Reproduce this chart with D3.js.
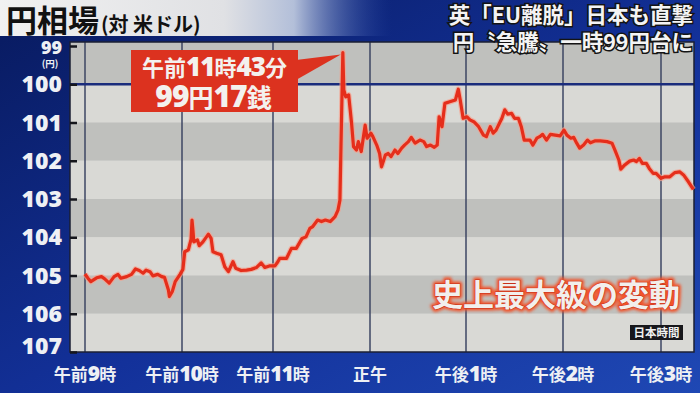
<!DOCTYPE html>
<html>
<head>
<meta charset="utf-8">
<script src="https://cdn.jsdelivr.net/npm/d3@7"></script>
<style>
  body { margin: 0; background: #0c237a; }
  svg { display: block; }
</style>
</head>
<body>
<svg width="700" height="393"></svg>
<script>
// time in hours (11.5 = 11:30 JST), rate in yen per dollar
const times = [9.00, 9.03, 9.06, 9.12, 9.17, 9.20, 9.25, 9.30, 9.34, 9.37, 9.43, 9.48, 9.52, 9.56, 9.60, 9.63, 9.67, 9.70, 9.75, 9.79,
  9.82, 9.86, 9.87, 9.90, 9.93, 9.98, 10.01, 10.03, 10.07, 10.10, 10.11, 10.12, 10.13, 10.17, 10.19, 10.23, 10.29, 10.32, 10.34, 10.38,
  10.43, 10.47, 10.51, 10.56, 10.59, 10.65, 10.71, 10.76, 10.82, 10.87, 10.91, 10.96, 11.02, 11.05, 11.07, 11.14, 11.19, 11.24, 11.30, 11.34,
  11.38, 11.41, 11.46, 11.50, 11.54, 11.59, 11.64, 11.67, 11.69, 11.72, 11.73, 11.75, 11.78, 11.81, 11.83, 11.86, 11.88, 11.91, 11.95, 11.97,
  12.01, 12.03, 12.07, 12.10, 12.12, 12.16, 12.19, 12.22, 12.26, 12.29, 12.33, 12.36, 12.40, 12.43, 12.47, 12.52, 12.56, 12.59, 12.63, 12.67,
  12.70, 12.72, 12.75, 12.78, 12.83, 12.89, 12.92, 12.94, 12.97, 13.01, 13.04, 13.08, 13.13, 13.18, 13.21, 13.25, 13.28, 13.31, 13.37, 13.40,
  13.43, 13.47, 13.50, 13.54, 13.57, 13.60, 13.66, 13.69, 13.73, 13.76, 13.79, 13.83, 13.87, 13.92, 13.97, 14.01, 14.04, 14.08, 14.11, 14.14,
  14.17, 14.21, 14.25, 14.28, 14.33, 14.38, 14.45, 14.50, 14.53, 14.57, 14.59, 14.63, 14.68, 14.72, 14.75, 14.78, 14.81, 14.85, 14.88, 14.92,
  14.95, 15.00, 15.04, 15.09, 15.14, 15.19, 15.23, 15.28, 15.33];
const rates = [104.96, 105.07, 105.16, 105.06, 105.03, 105.08, 105.20, 105.03, 104.97, 105.07, 105.03, 104.97, 104.83, 104.87, 104.94, 104.86, 104.90, 105.01, 104.97, 105.03,
  105.05, 105.38, 105.55, 105.42, 105.16, 104.97, 104.84, 104.38, 104.33, 104.05, 103.55, 103.81, 104.12, 104.07, 104.22, 104.12, 103.92, 104.03, 104.38, 104.42,
  104.46, 104.77, 104.90, 104.64, 104.81, 104.87, 104.86, 104.84, 104.79, 104.67, 104.79, 104.75, 104.75, 104.64, 104.55, 104.55, 104.29, 104.29, 104.03, 103.99,
  103.77, 103.72, 103.55, 103.59, 103.55, 103.59, 103.46, 103.29, 103.03, 99.17, 100.15, 100.33, 100.28, 101.02, 101.63, 101.72, 101.50, 101.76, 101.07, 101.41,
  101.28, 101.37, 101.59, 101.81, 102.16, 101.85, 101.81, 101.89, 101.72, 101.81, 101.67, 101.59, 101.50, 101.39, 101.54, 101.46, 101.50, 101.63, 101.59, 101.65,
  101.59, 100.85, 101.11, 100.50, 100.46, 100.41, 100.13, 100.41, 100.89, 100.85, 100.93, 100.98, 101.11, 101.33, 101.37, 101.11, 101.28, 101.20, 100.89, 100.67,
  100.78, 100.76, 100.89, 100.89, 101.11, 101.46, 101.46, 101.59, 101.41, 101.37, 101.31, 101.46, 101.31, 101.33, 101.35, 101.20, 101.33, 101.41, 101.39, 101.54,
  101.67, 101.59, 101.46, 101.53, 101.48, 101.48, 101.50, 101.54, 101.72, 101.98, 102.22, 102.11, 102.01, 101.98, 102.02, 101.94, 102.07, 102.07, 102.20, 102.33,
  102.33, 102.46, 102.42, 102.42, 102.31, 102.29, 102.37, 102.55, 102.75];

const hourTicks = [9, 10, 11, 12, 13, 14, 15];
const hourLabels = ["午前9時", "午前10時", "午前11時", "正午", "午後1時", "午後2時", "午後3時"];
const yenTicks = [99, 100, 101, 102, 103, 104, 105, 106, 107];
const peakLabel = ["午前11時43分", "99円17銭"];
const titleMain = "円相場";
const titleSub = "(対 米ドル)";
const headline = ["英「EU離脱」日本も直撃", "円〝急騰〟一時99円台に"];
const caption = "史上最大級の変動";
const zoneNote = "日本時間";

const JP = "'Noto Sans CJK JP', sans-serif";
const NUM = "'Open Sans', 'DejaVu Sans', sans-serif";

const svg = d3.select("svg");
const plot = { left: 70, right: 694, top: 42, bottom: 352 };

// the broadcast grid is not quite even, so the hour lines get their own stops
const x = d3.scaleLinear().domain(hourTicks).range([85, 182, 273, 370, 466, 563, 661]);
const y = d3.scaleLinear().domain([99, 107]).range([46, 352]);

const defs = svg.append("defs");
const bg = defs.append("linearGradient").attr("id", "bg")
  .attr("x1", 0).attr("y1", 0).attr("x2", 1).attr("y2", 1);
bg.append("stop").attr("offset", "0%").attr("stop-color", "#081a5e");
bg.append("stop").attr("offset", "55%").attr("stop-color", "#13319a");
bg.append("stop").attr("offset", "100%").attr("stop-color", "#1f48b4");

const band = defs.append("linearGradient").attr("id", "titleband");
band.append("stop").attr("offset", "0%").attr("stop-color", "#f1f1f1");
band.append("stop").attr("offset", "32%").attr("stop-color", "#e0e1e4");
band.append("stop").attr("offset", "42%").attr("stop-color", "#b3bfd9");
band.append("stop").attr("offset", "56%").attr("stop-color", "#2a4aa8").attr("stop-opacity", 0);

const glow = defs.append("filter").attr("id", "glow")
  .attr("x", "-10%").attr("y", "-30%").attr("width", "120%").attr("height", "160%");
glow.append("feGaussianBlur").attr("stdDeviation", 1.8);

// background
svg.append("rect").attr("width", 700).attr("height", 393).attr("fill", "url(#bg)");
svg.append("rect").attr("width", 700).attr("height", 36).attr("fill", "url(#titleband)");

// plot panel with alternating yen bands
svg.append("rect")
  .attr("x", plot.left).attr("y", plot.top)
  .attr("width", plot.right - plot.left).attr("height", plot.bottom - plot.top)
  .attr("fill", "#d9d9d5");

svg.selectAll(".band")
  .data(yenTicks.slice(0, -1))
  .enter()
  .append("rect")
  .attr("class", "band")
  .attr("x", plot.left)
  .attr("y", d => d === 99 ? plot.top : y(d))
  .attr("width", plot.right - plot.left)
  .attr("height", d => y(d + 1) - (d === 99 ? plot.top : y(d)))
  .attr("fill", (d, i) => i % 2 === 0 ? "#bfc0bd" : "#d9d9d5");

// hour grid lines
svg.selectAll(".vgrid")
  .data(hourTicks)
  .enter()
  .append("line")
  .attr("class", "vgrid")
  .attr("x1", d => x(d)).attr("x2", d => x(d))
  .attr("y1", plot.top).attr("y2", plot.bottom)
  .attr("stroke", "#3d4663")
  .attr("stroke-width", 1.5);

// 100 yen line
svg.append("line")
  .attr("x1", plot.left).attr("x2", plot.right)
  .attr("y1", y(100)).attr("y2", y(100))
  .attr("stroke", "#1a2c7c")
  .attr("stroke-width", 2.5);

svg.append("rect")
  .attr("x", plot.left).attr("y", plot.top)
  .attr("width", plot.right - plot.left).attr("height", plot.bottom - plot.top)
  .attr("fill", "none").attr("stroke", "#1b1f33").attr("stroke-width", 1.5);

// y axis: short ticks inside the panel, white labels outside
const yAxis = d3.axisLeft(y).tickValues(yenTicks).tickSize(-7).tickFormat("");
svg.append("g")
  .attr("transform", `translate(${plot.left},0)`)
  .call(yAxis)
  .call(g => g.select(".domain").remove())
  .call(g => g.selectAll(".tick line").attr("stroke", "#15161c").attr("stroke-width", 2.5));

svg.selectAll(".ylab")
  .data(yenTicks)
  .enter()
  .append("text")
  .attr("class", "ylab")
  .attr("x", 62)
  .attr("y", d => d === 99 ? 54 : Math.min(y(d), 346) + 8)
  .attr("text-anchor", "end")
  .attr("font-family", NUM)
  .attr("font-weight", 800)
  .attr("font-size", d => d === 99 ? 18 : 23)
  .attr("fill", "#eef0f4")
  .text(d => d);

svg.append("text")
  .attr("x", 50).attr("y", 67)
  .attr("text-anchor", "middle")
  .attr("font-family", JP).attr("font-weight", 700).attr("font-size", 9.5)
  .attr("fill", "#eef0f4")
  .text("(円)");

// x labels, digits drawn larger like the broadcast font
function mixedText(sel, str, kanjiSize, digitSize) {
  str.split(/(\d+)/).filter(s => s.length).forEach(s => {
    const isNum = /\d/.test(s);
    sel.append("tspan")
      .attr("font-family", isNum ? NUM : JP)
      .attr("font-size", isNum ? digitSize : kanjiSize)
      .attr("font-weight", isNum ? 800 : 700)
      .attr("letter-spacing", isNum ? -1 : 0)
      .text(s);
  });
}

svg.selectAll(".xlab")
  .data(hourTicks)
  .enter()
  .append("text")
  .attr("class", "xlab")
  .attr("x", d => x(d))
  .attr("y", 381)
  .attr("text-anchor", "middle")
  .attr("fill", "#eef0f4")
  .each(function (d, i) { mixedText(d3.select(this), hourLabels[i], 17, 21); });

// the rate line
const line = d3.line()
  .x(i => x(times[i]))
  .y(i => y(rates[i]));
const idx = d3.range(times.length);

svg.append("path")
  .attr("d", line(idx))
  .attr("fill", "none")
  .attr("stroke", "#f7a08c")
  .attr("stroke-opacity", 0.7)
  .attr("stroke-width", 5.5)
  .attr("stroke-linejoin", "round");
svg.append("path")
  .attr("d", line(idx))
  .attr("fill", "none")
  .attr("stroke", "#e52e1b")
  .attr("stroke-width", 3.2)
  .attr("stroke-linejoin", "round");

// peak call-out
const peakI = rates.indexOf(d3.min(rates));
const px = x(times[peakI]), py = y(rates[peakI]);
const box = { x: 131, y: 50, w: 167, h: 62 };
svg.append("path")
  .attr("d", `M${box.x + box.w - 2},${box.y + 10} L${px - 2},${py + 2} L${box.x + box.w - 2},${box.y + 30} Z`)
  .attr("fill", "#dc321f");
svg.append("rect")
  .attr("x", box.x).attr("y", box.y)
  .attr("width", box.w).attr("height", box.h)
  .attr("fill", "#dc321f");
const pl1 = svg.append("text")
  .attr("x", box.x + box.w / 2).attr("y", box.y + 26)
  .attr("text-anchor", "middle").attr("fill", "#f3f1ee");
mixedText(pl1, peakLabel[0], 22, 26);
const pl2 = svg.append("text")
  .attr("x", box.x + box.w / 2 - 1).attr("y", box.y + 57)
  .attr("text-anchor", "middle").attr("fill", "#f3f1ee");
mixedText(pl2, peakLabel[1], 25, 30);

// title
const title = svg.append("text").attr("x", 6).attr("y", 32).attr("fill", "#111");
title.append("tspan").attr("font-family", JP).attr("font-weight", 700).attr("font-size", 31).text(titleMain);
title.append("tspan").attr("font-family", JP).attr("font-weight", 700).attr("font-size", 20).attr("dx", 2).text(titleSub);

// headline, top right
svg.selectAll(".headline")
  .data(headline)
  .enter()
  .append("text")
  .attr("class", "headline")
  .attr("x", 693)
  .attr("y", (d, i) => 23 + i * 27)
  .attr("text-anchor", "end")
  .attr("font-family", JP)
  .attr("font-weight", 700)
  .attr("font-size", 21.5)
  .attr("fill", "#f4f4f4")
  .attr("stroke", "#141414")
  .attr("stroke-width", 3)
  .attr("paint-order", "stroke")
  .text(d => d);

// caption with red glow
svg.append("text")
  .attr("x", 680).attr("y", 306)
  .attr("text-anchor", "end")
  .attr("font-family", JP).attr("font-weight", 700).attr("font-size", 31)
  .attr("fill", "#f2522a").attr("stroke", "#f2522a").attr("stroke-width", 5)
  .attr("stroke-linejoin", "round")
  .attr("filter", "url(#glow)")
  .text(caption);
svg.append("text")
  .attr("x", 680).attr("y", 306)
  .attr("text-anchor", "end")
  .attr("font-family", JP).attr("font-weight", 700).attr("font-size", 31)
  .attr("fill", "#f2efec").attr("stroke", "#c7301a").attr("stroke-width", 1)
  .attr("paint-order", "stroke")
  .text(caption);

svg.append("rect")
  .attr("x", 630).attr("y", 325).attr("width", 53).attr("height", 15)
  .attr("fill", "#17171b");
svg.append("text")
  .attr("x", 656.5).attr("y", 337)
  .attr("text-anchor", "middle")
  .attr("font-family", JP).attr("font-weight", 700).attr("font-size", 11.5)
  .attr("fill", "#f0f0f0")
  .text(zoneNote);
</script>
</body>
</html>
